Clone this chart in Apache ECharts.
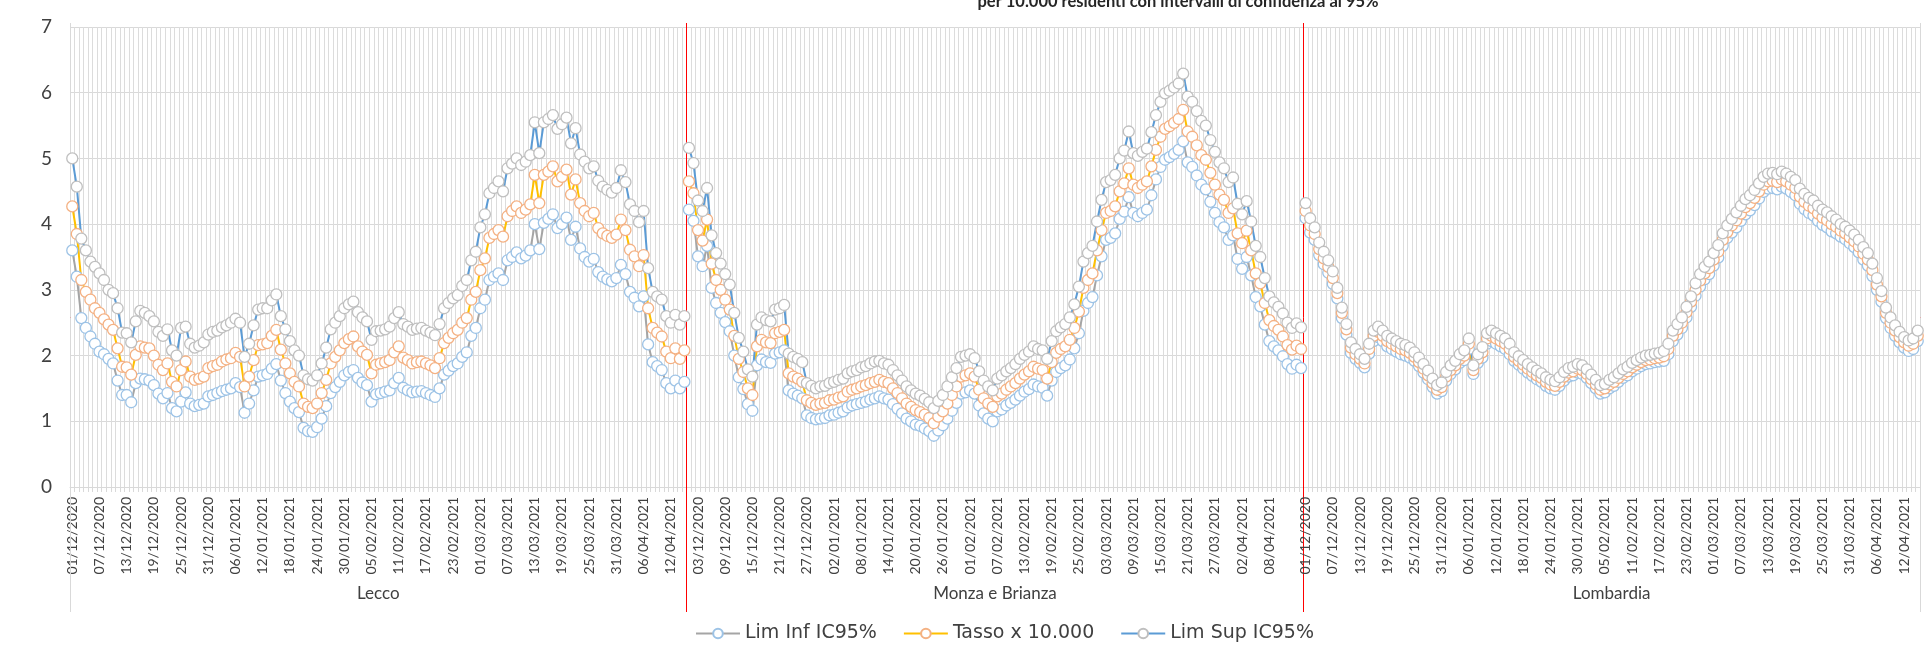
<!DOCTYPE html>
<html>
<head>
<meta charset="utf-8">
<script src="https://cdn.jsdelivr.net/npm/echarts@6/dist/echarts.min.js"></script>
<style>
  html, body { margin: 0; padding: 0; background: #fff; }
  #chart { width: 1932px; height: 648px; }
</style>
</head>
<body>
<div id="chart"></div>
<script>
// gruppi e giorni (01/12/2020 - 15/04/2021)
var groups = ['Lecco', 'Monza e Brianza', 'Lombardia'];
var nDays = 136;
var seriesNames = ['Lim Inf IC95%', 'Tasso x 10.000', 'Lim Sup IC95%'];
var yTicks = [0, 1, 2, 3, 4, 5, 6, 7];

// Lecco
var leccoInf = [3.6,3.2,2.57,2.42,2.29,2.18,2.06,2.02,1.95,1.88,
  1.62,1.4,1.4,1.29,1.58,1.65,1.64,1.62,1.55,1.42,
  1.35,1.43,1.2,1.15,1.3,1.44,1.27,1.23,1.25,1.27,
  1.38,1.4,1.43,1.46,1.48,1.5,1.58,1.52,1.13,1.27,
  1.47,1.68,1.7,1.72,1.8,1.87,1.62,1.43,1.3,1.2,
  1.14,0.9,0.85,0.84,0.91,1.04,1.23,1.43,1.52,1.6,
  1.7,1.75,1.78,1.66,1.59,1.55,1.3,1.41,1.43,1.45,
  1.47,1.58,1.66,1.51,1.47,1.44,1.45,1.46,1.43,1.4,
  1.37,1.5,1.71,1.77,1.84,1.88,1.98,2.05,2.3,2.42,
  2.72,2.85,3.15,3.2,3.25,3.15,3.45,3.5,3.57,3.48,
  3.52,3.6,4.0,3.62,4.02,4.08,4.15,3.94,4.0,4.1,
  3.76,3.96,3.63,3.5,3.43,3.47,3.27,3.2,3.16,3.13,
  3.18,3.38,3.24,2.97,2.88,2.75,2.9,2.17,1.9,1.84,
  1.78,1.58,1.5,1.62,1.5,1.6];
var leccoTasso = [4.27,3.85,3.15,2.97,2.85,2.72,2.65,2.55,2.47,2.39,
  2.11,1.83,1.82,1.71,2.01,2.14,2.12,2.11,2.0,1.86,
  1.78,1.88,1.6,1.53,1.78,1.91,1.68,1.63,1.65,1.68,
  1.81,1.84,1.86,1.91,1.94,1.96,2.04,1.98,1.53,1.68,
  1.93,2.16,2.17,2.19,2.3,2.39,2.09,1.88,1.73,1.6,
  1.53,1.27,1.22,1.2,1.27,1.43,1.63,1.88,1.98,2.08,
  2.19,2.25,2.29,2.14,2.06,2.01,1.73,1.86,1.88,1.9,
  1.93,2.05,2.14,1.97,1.93,1.88,1.9,1.91,1.88,1.85,
  1.81,1.96,2.19,2.27,2.34,2.39,2.5,2.57,2.85,2.97,
  3.3,3.48,3.79,3.85,3.91,3.81,4.12,4.2,4.27,4.17,
  4.22,4.3,4.75,4.32,4.75,4.8,4.88,4.65,4.72,4.83,
  4.45,4.68,4.32,4.2,4.12,4.17,3.94,3.86,3.82,3.79,
  3.84,4.07,3.91,3.61,3.51,3.36,3.53,2.72,2.42,2.35,
  2.29,2.06,1.96,2.11,1.95,2.08];
var leccoSup = [5.0,4.57,3.78,3.6,3.43,3.35,3.25,3.15,3.0,2.95,
  2.72,2.35,2.34,2.2,2.52,2.68,2.65,2.6,2.52,2.36,
  2.3,2.4,2.08,2.0,2.42,2.44,2.18,2.12,2.15,2.2,
  2.32,2.36,2.38,2.43,2.46,2.5,2.56,2.5,1.98,2.18,
  2.46,2.7,2.72,2.72,2.84,2.93,2.6,2.4,2.22,2.08,
  2.0,1.7,1.64,1.62,1.7,1.88,2.12,2.4,2.5,2.6,
  2.72,2.78,2.82,2.66,2.58,2.52,2.24,2.37,2.38,2.4,
  2.44,2.57,2.66,2.48,2.44,2.39,2.41,2.42,2.38,2.35,
  2.31,2.48,2.72,2.8,2.87,2.92,3.06,3.15,3.45,3.58,
  3.95,4.15,4.47,4.55,4.65,4.5,4.85,4.92,5.0,4.9,
  4.95,5.05,5.55,5.08,5.55,5.6,5.66,5.45,5.52,5.62,
  5.23,5.46,5.06,4.95,4.85,4.88,4.66,4.57,4.52,4.48,
  4.55,4.82,4.64,4.3,4.2,4.03,4.2,3.33,2.97,2.9,
  2.85,2.6,2.5,2.62,2.47,2.6];

// Monza e Brianza
var monzaInf = [4.22,4.05,3.51,3.36,3.67,3.03,2.8,2.65,2.51,2.37,
  2.0,1.67,1.49,1.26,1.16,1.85,1.94,1.9,1.89,2.03,
  2.05,2.08,1.47,1.42,1.39,1.35,1.09,1.05,1.03,1.04,
  1.05,1.09,1.1,1.13,1.15,1.21,1.24,1.26,1.28,1.3,
  1.33,1.35,1.38,1.35,1.33,1.26,1.19,1.12,1.04,1.0,
  0.95,0.93,0.89,0.85,0.78,0.86,0.94,1.04,1.16,1.28,
  1.42,1.44,1.47,1.42,1.24,1.12,1.04,1.0,1.15,1.18,
  1.24,1.28,1.33,1.39,1.45,1.49,1.56,1.53,1.51,1.39,
  1.62,1.75,1.81,1.85,1.94,2.11,2.34,2.68,2.8,2.89,
  3.22,3.51,3.76,3.79,3.86,4.08,4.19,4.41,4.17,4.12,
  4.17,4.22,4.44,4.68,4.87,4.98,5.02,5.07,5.13,5.26,
  4.94,4.87,4.74,4.6,4.53,4.34,4.17,4.03,3.95,3.76,
  3.83,3.47,3.32,3.5,3.22,2.89,2.75,2.47,2.22,2.14,
  2.08,1.99,1.87,1.8,1.86,1.81];
var monzaTasso = [4.65,4.47,3.91,3.75,4.07,3.4,3.15,3.0,2.85,2.7,
  2.3,1.95,1.75,1.5,1.4,2.14,2.24,2.2,2.19,2.34,
  2.36,2.39,1.73,1.68,1.65,1.6,1.32,1.28,1.25,1.27,
  1.28,1.32,1.33,1.36,1.38,1.45,1.48,1.5,1.53,1.55,
  1.58,1.6,1.63,1.6,1.58,1.5,1.43,1.35,1.27,1.22,
  1.17,1.14,1.1,1.05,0.97,1.07,1.15,1.27,1.4,1.53,
  1.68,1.7,1.73,1.68,1.48,1.35,1.27,1.22,1.38,1.42,
  1.48,1.53,1.58,1.65,1.71,1.76,1.83,1.8,1.78,1.65,
  1.9,2.04,2.1,2.14,2.24,2.42,2.67,3.03,3.15,3.25,
  3.6,3.91,4.17,4.2,4.27,4.5,4.62,4.85,4.6,4.55,
  4.6,4.65,4.88,5.13,5.33,5.45,5.49,5.54,5.6,5.74,
  5.41,5.33,5.2,5.05,4.98,4.78,4.6,4.45,4.37,4.17,
  4.24,3.86,3.71,3.9,3.6,3.25,3.1,2.8,2.54,2.45,
  2.39,2.29,2.16,2.09,2.15,2.1];
var monzaSup = [5.16,4.93,4.36,4.2,4.55,3.83,3.56,3.4,3.24,3.08,
  2.65,2.27,2.06,1.79,1.68,2.47,2.58,2.54,2.52,2.7,
  2.72,2.77,2.03,1.98,1.95,1.9,1.58,1.54,1.5,1.53,
  1.54,1.58,1.6,1.63,1.65,1.73,1.76,1.78,1.82,1.84,
  1.88,1.91,1.92,1.88,1.86,1.78,1.7,1.62,1.53,1.47,
  1.42,1.39,1.34,1.29,1.2,1.31,1.4,1.53,1.67,1.81,
  1.98,2.0,2.02,1.96,1.76,1.62,1.53,1.47,1.65,1.7,
  1.76,1.81,1.87,1.95,2.01,2.06,2.14,2.1,2.08,1.95,
  2.22,2.37,2.43,2.48,2.58,2.78,3.05,3.43,3.56,3.67,
  4.04,4.37,4.64,4.67,4.75,5.0,5.12,5.41,5.08,5.04,
  5.1,5.15,5.4,5.66,5.86,5.99,6.03,6.08,6.14,6.29,
  5.94,5.86,5.72,5.57,5.5,5.28,5.1,4.94,4.85,4.64,
  4.71,4.31,4.15,4.35,4.04,3.67,3.5,3.18,2.9,2.81,
  2.74,2.64,2.5,2.42,2.49,2.43];

// Lombardia
var lombInf = [4.09,3.87,3.76,3.53,3.39,3.26,3.09,2.87,2.57,2.32,
  2.04,1.95,1.89,1.82,2.03,2.22,2.28,2.22,2.14,2.1,
  2.06,2.02,2.0,1.97,1.92,1.84,1.74,1.64,1.52,1.42,
  1.46,1.62,1.72,1.79,1.89,1.93,2.1,1.72,1.89,1.97,
  2.18,2.22,2.18,2.14,2.1,2.02,1.92,1.86,1.8,1.74,
  1.69,1.64,1.6,1.54,1.5,1.48,1.54,1.62,1.68,1.7,
  1.74,1.72,1.66,1.58,1.5,1.42,1.44,1.5,1.54,1.6,
  1.66,1.7,1.76,1.8,1.84,1.87,1.88,1.9,1.91,1.92,
  2.02,2.22,2.32,2.42,2.58,2.74,2.91,3.05,3.16,3.24,
  3.37,3.49,3.67,3.79,3.87,3.95,4.05,4.15,4.21,4.29,
  4.39,4.49,4.54,4.55,4.53,4.57,4.54,4.49,4.44,4.31,
  4.23,4.17,4.13,4.05,3.99,3.95,3.89,3.86,3.81,3.77,
  3.71,3.65,3.57,3.46,3.37,3.21,3.0,2.82,2.57,2.42,
  2.3,2.2,2.12,2.07,2.1,2.22];
var lombTasso = [4.2,3.98,3.85,3.62,3.48,3.35,3.18,2.95,2.65,2.4,
  2.12,2.02,1.95,1.88,2.1,2.3,2.36,2.3,2.22,2.18,
  2.14,2.1,2.08,2.04,1.98,1.9,1.8,1.7,1.58,1.48,
  1.52,1.68,1.78,1.85,1.95,2.0,2.18,1.78,1.95,2.05,
  2.26,2.3,2.26,2.22,2.18,2.1,1.98,1.92,1.86,1.8,
  1.75,1.7,1.66,1.6,1.56,1.54,1.6,1.68,1.74,1.76,
  1.8,1.78,1.72,1.64,1.56,1.48,1.5,1.56,1.6,1.66,
  1.72,1.76,1.82,1.86,1.9,1.93,1.94,1.96,1.97,1.99,
  2.1,2.3,2.4,2.5,2.66,2.82,3.0,3.14,3.25,3.33,
  3.46,3.58,3.76,3.88,3.98,4.06,4.16,4.26,4.32,4.4,
  4.5,4.6,4.65,4.66,4.64,4.68,4.65,4.6,4.55,4.42,
  4.34,4.28,4.24,4.16,4.1,4.06,4.0,3.96,3.9,3.86,
  3.8,3.74,3.66,3.55,3.46,3.3,3.08,2.9,2.65,2.5,
  2.38,2.28,2.2,2.15,2.18,2.3];
var lombSup = [4.32,4.09,3.95,3.72,3.58,3.45,3.28,3.03,2.73,2.48,
  2.2,2.1,2.02,1.95,2.18,2.38,2.44,2.38,2.3,2.26,
  2.22,2.18,2.16,2.12,2.05,1.97,1.87,1.77,1.65,1.55,
  1.59,1.75,1.85,1.92,2.02,2.08,2.26,1.85,2.02,2.13,
  2.34,2.38,2.34,2.3,2.26,2.18,2.05,1.99,1.93,1.87,
  1.82,1.77,1.73,1.67,1.63,1.61,1.67,1.75,1.81,1.83,
  1.87,1.85,1.79,1.71,1.63,1.55,1.57,1.63,1.67,1.73,
  1.79,1.83,1.89,1.93,1.97,2.0,2.01,2.03,2.04,2.07,
  2.18,2.38,2.48,2.58,2.74,2.9,3.1,3.24,3.35,3.43,
  3.56,3.68,3.86,3.98,4.08,4.18,4.28,4.38,4.44,4.52,
  4.62,4.72,4.77,4.78,4.76,4.8,4.77,4.72,4.67,4.54,
  4.46,4.4,4.36,4.28,4.22,4.18,4.12,4.07,4.0,3.96,
  3.9,3.84,3.76,3.65,3.56,3.4,3.18,2.98,2.73,2.58,
  2.46,2.36,2.28,2.23,2.26,2.38];

var dataByName = {
  'Lim Inf IC95%': [leccoInf, monzaInf, lombInf],
  'Tasso x 10.000': [leccoTasso, monzaTasso, lombTasso],
  'Lim Sup IC95%': [leccoSup, monzaSup, lombSup]
};
var lineColors = { 'Lim Inf IC95%': '#a5a5a5', 'Tasso x 10.000': '#ffc000', 'Lim Sup IC95%': '#5b9bd5' };
var markerColors = { 'Lim Inf IC95%': '#9dc3e6', 'Tasso x 10.000': '#f4b183', 'Lim Sup IC95%': '#bfbfbf' };

// etichette date dd/mm/yyyy
function pad(n) { return n < 10 ? '0' + n : '' + n; }
var dates = [];
for (var i = 0; i < nDays; i++) {
  var d = new Date(2020, 11, 1 + i);
  dates.push(pad(d.getDate()) + '/' + pad(d.getMonth() + 1) + '/' + d.getFullYear());
}
var categories = [];
groups.forEach(function () { categories = categories.concat(dates); });

// etichette ogni 6 giorni (Monza parte dal 03/12)
var labelOffset = [0, 2, 0];
var labelLast = [132, 128, 132];
function showLabel(index) {
  var g = Math.floor(index / nDays);
  var i = index % nDays;
  return i >= labelOffset[g] && i <= labelLast[g] && (i - labelOffset[g]) % 6 === 0;
}

var series = [];
seriesNames.forEach(function (name) {
  dataByName[name].forEach(function (arr, g) {
    series.push({
      name: name,
      type: 'line',
      data: arr.map(function (v, i) { return [g * nDays + i, v]; }),
      symbol: 'circle',
      symbolSize: 11,
      showAllSymbol: true,
      lineStyle: { color: lineColors[name], width: 2 },
      itemStyle: { color: '#ffffff', borderColor: markerColors[name], borderWidth: 1.3 },
      emphasis: { disabled: true },
      animation: false
    });
  });
});

var chart = echarts.init(document.getElementById('chart'));
chart.setOption({
  animation: false,
  backgroundColor: '#ffffff',
  textStyle: { fontFamily: 'Lato, "Liberation Sans", sans-serif' },
  title: {
    text: 'per 10.000 residenti con intervalli di confidenza al 95%',
    left: 1178,
    textAlign: 'center',
    top: -7,
    padding: 0,
    textStyle: { fontSize: 16.5, fontWeight: 'bold', color: '#262626' }
  },
  legend: {
    data: seriesNames,
    bottom: 0,
    left: 690,
    itemWidth: 44,
    itemHeight: 12,
    itemGap: 26,
    textStyle: { fontSize: 19, color: '#404040', fontFamily: '"DejaVu Sans", sans-serif' }
  },
  grid: { left: 70, right: 12, top: 27, bottom: 161 },
  xAxis: [
    {
      type: 'category',
      data: categories,
      boundaryGap: true,
      axisLine: { lineStyle: { color: '#d9d9d9' } },
      axisTick: { show: true, interval: 0, length: 5, lineStyle: { color: '#d9d9d9' } },
      splitLine: { show: true, interval: 0, lineStyle: { color: '#dcdcdc', width: 1 } },
      axisLabel: {
        interval: function (index) { return showLabel(index); },
        rotate: 90,
        fontSize: 14,
        color: '#404040',
        margin: 10
      }
    },
    {
      // nomi dei gruppi e separatori rossi
      type: 'category',
      data: groups,
      position: 'bottom',
      offset: 125,
      axisLine: { show: false },
      axisTick: { show: true, interval: 0, inside: true, length: 589, lineStyle: { color: '#ff0000', width: 1 } },
      axisLabel: { inside: true, margin: 10, fontSize: 17, color: '#404040' },
      splitLine: { show: false }
    },
    {
      // bordi esterni grigi
      type: 'category',
      data: [''],
      position: 'bottom',
      offset: 125,
      z: 3,
      axisLine: { show: false },
      axisTick: { show: true, inside: true, length: 589, lineStyle: { color: '#d9d9d9', width: 1 } },
      axisLabel: { show: false },
      splitLine: { show: false }
    }
  ],
  yAxis: {
    type: 'value',
    min: yTicks[0],
    max: yTicks[yTicks.length - 1],
    interval: 1,
    axisLine: { show: false },
    axisTick: { show: false },
    splitLine: { lineStyle: { color: '#d9d9d9' } },
    axisLabel: { fontSize: 19, color: '#404040', margin: 18 }
  },
  series: series
});
</script>
</body>
</html>
